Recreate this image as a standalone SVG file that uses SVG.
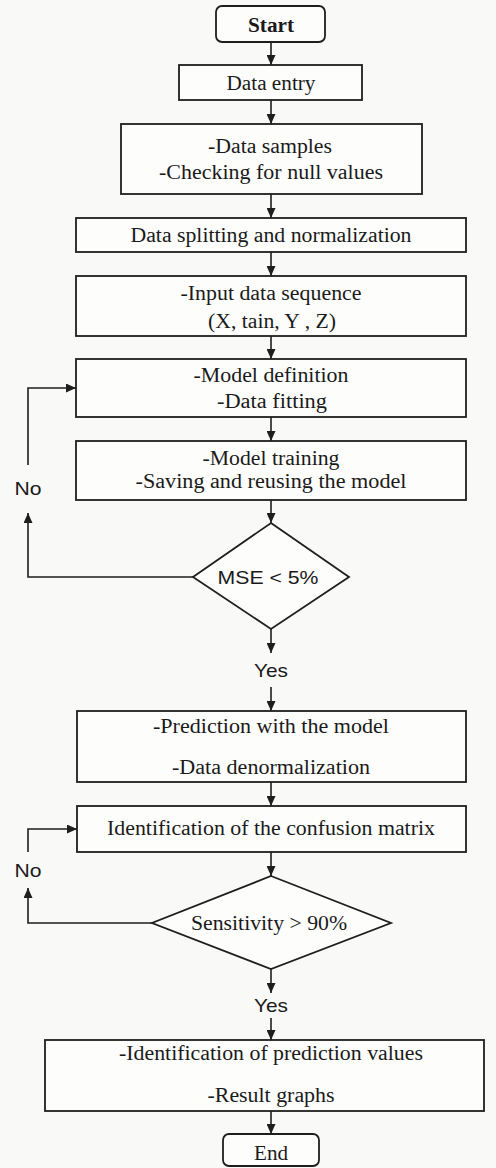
<svg xmlns="http://www.w3.org/2000/svg" width="496" height="1168" viewBox="0 0 496 1168">
<defs>
<marker id="ah" markerUnits="userSpaceOnUse" markerWidth="10" markerHeight="9" refX="10" refY="4.5" orient="auto">
<path d="M0,0 L10,4.5 L0,9 z" fill="#1e1e1e"/>
</marker>
<style>
.bx{fill:#fdfdfc;stroke:#1e1e1e;stroke-width:1.8}
.ln{fill:none;stroke:#1e1e1e;stroke-width:1.6}
.ar{fill:none;stroke:#1e1e1e;stroke-width:1.6;marker-end:url(#ah)}
.s{font-family:"Liberation Serif","Times New Roman",serif;font-size:20px;fill:#1a1a1a;text-anchor:middle}
.b{font-weight:bold}
.a{font-family:"Liberation Sans",Arial,sans-serif;font-size:19px;fill:#1a1a1a;text-anchor:middle}
</style>
</defs>
<rect width="496" height="1168" fill="#f9f9f7"/>

<g id="connectors">
<line class="ar" x1="271" y1="42" x2="271" y2="65"/>
<line class="ar" x1="271" y1="100" x2="271" y2="124"/>
<line class="ar" x1="271" y1="194" x2="271" y2="218"/>
<line class="ar" x1="271" y1="252" x2="271" y2="276"/>
<line class="ar" x1="271" y1="336" x2="271" y2="359"/>
<line class="ar" x1="271" y1="417" x2="271" y2="441"/>
<line class="ar" x1="271" y1="500" x2="271" y2="523"/>
<line class="ar" x1="271" y1="629" x2="271" y2="653"/>
<line class="ar" x1="271" y1="687" x2="271" y2="711"/>
<line class="ar" x1="271" y1="782" x2="271" y2="806"/>
<line class="ar" x1="271" y1="852" x2="271" y2="876"/>
<line class="ar" x1="271" y1="969" x2="271" y2="993"/>
<line class="ar" x1="271" y1="1018" x2="271" y2="1040"/>
<line class="ar" x1="271" y1="1111" x2="271" y2="1134"/>
<polyline class="ar" points="193,577 28,577 28,513"/>
<polyline class="ar" points="28,465 28,388 76,388"/>
<polyline class="ar" points="152,923 28,923 28,888"/>
<polyline class="ar" points="28,852 28,829 77,829"/>
<text class="a" x="28" y="495" textLength="27" lengthAdjust="spacingAndGlyphs">No</text>
<text class="a" x="271" y="677" textLength="34" lengthAdjust="spacingAndGlyphs">Yes</text>
<text class="a" x="28" y="877" textLength="27" lengthAdjust="spacingAndGlyphs">No</text>
<text class="a" x="271" y="1012" textLength="34" lengthAdjust="spacingAndGlyphs">Yes</text>
</g>

<g id="start">
<rect class="bx" x="216" y="6" width="109" height="36" rx="6"/>
<text class="s b" x="271" y="32" textLength="46" lengthAdjust="spacingAndGlyphs">Start</text>
</g>

<g id="data-entry">
<rect class="bx" x="179" y="65" width="183" height="35"/>
<text class="s" x="271" y="90" textLength="89" lengthAdjust="spacingAndGlyphs">Data entry</text>
</g>

<g id="data-samples">
<rect class="bx" x="121" y="124" width="301" height="70"/>
<text class="s" x="270" y="153" textLength="124" lengthAdjust="spacingAndGlyphs">-Data samples</text>
<text class="s" x="271" y="179" textLength="224" lengthAdjust="spacingAndGlyphs">-Checking for null values</text>
</g>

<g id="data-splitting">
<rect class="bx" x="76" y="218" width="390" height="34"/>
<text class="s" x="271" y="242" textLength="281" lengthAdjust="spacingAndGlyphs">Data splitting and normalization</text>
</g>

<g id="input-sequence">
<rect class="bx" x="76" y="276" width="390" height="60"/>
<text class="s" x="271" y="300" textLength="181" lengthAdjust="spacingAndGlyphs">-Input data sequence</text>
<text class="s" x="272" y="328" textLength="128" lengthAdjust="spacingAndGlyphs">(X, tain, Y , Z)</text>
</g>

<g id="model-definition">
<rect class="bx" x="76" y="359" width="390" height="58"/>
<text class="s" x="271" y="382" textLength="155" lengthAdjust="spacingAndGlyphs">-Model definition</text>
<text class="s" x="272" y="408" textLength="110" lengthAdjust="spacingAndGlyphs">-Data fitting</text>
</g>

<g id="model-training">
<rect class="bx" x="76" y="441" width="390" height="59"/>
<text class="s" x="271" y="465" textLength="137" lengthAdjust="spacingAndGlyphs">-Model training</text>
<text class="s" x="271" y="488" textLength="271" lengthAdjust="spacingAndGlyphs">-Saving and reusing the model</text>
</g>

<g id="mse-decision">
<polygon class="bx" points="271,523 349,577 271,629 193,577"/>
<text class="a" x="268" y="584" textLength="101" lengthAdjust="spacingAndGlyphs">MSE &lt; 5%</text>
</g>

<g id="prediction">
<rect class="bx" x="77" y="711" width="389" height="71"/>
<text class="s" x="271" y="733" textLength="236" lengthAdjust="spacingAndGlyphs">-Prediction with the model</text>
<text class="s" x="271" y="774" textLength="198" lengthAdjust="spacingAndGlyphs">-Data denormalization</text>
</g>

<g id="confusion-matrix">
<rect class="bx" x="77" y="806" width="389" height="46"/>
<text class="s" x="271" y="835" textLength="328" lengthAdjust="spacingAndGlyphs">Identification of the confusion matrix</text>
</g>

<g id="sensitivity-decision">
<polygon class="bx" points="271,876 391,923 271,969 152,923"/>
<text class="s" x="269" y="930" textLength="156" lengthAdjust="spacingAndGlyphs">Sensitivity &gt; 90%</text>
</g>

<g id="prediction-values">
<rect class="bx" x="45" y="1040" width="439" height="71"/>
<text class="s" x="271" y="1060" textLength="304" lengthAdjust="spacingAndGlyphs">-Identification of prediction values</text>
<text class="s" x="271" y="1102" textLength="127" lengthAdjust="spacingAndGlyphs">-Result graphs</text>
</g>

<g id="end">
<rect class="bx" x="223" y="1134" width="96" height="32" rx="6"/>
<text class="s" x="271" y="1160" textLength="34" lengthAdjust="spacingAndGlyphs">End</text>
</g>
</svg>
